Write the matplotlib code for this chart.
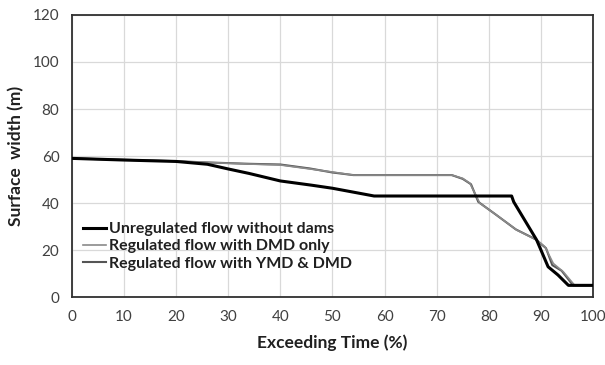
import matplotlib
matplotlib.use("Agg")
import matplotlib.pyplot as plt

plt.rcParams['font.family'] = ['Lato', 'DejaVu Sans']

# Data
x_unreg = [0, 10, 20, 26, 30, 34, 40, 46, 50, 58, 84.4, 84.8, 89.2, 91.4, 93.3, 95.3, 100]
y_unreg = [59, 58.3, 57.7, 56.5, 54.5, 52.6, 49.4, 47.6, 46.3, 43, 43, 40.5, 24.3, 12.9, 9.4, 5, 5]

x_dmd = [0, 10, 20, 25.6, 34, 40, 45.7, 50, 54, 72.9, 75, 76.4, 78.3, 81.5, 85.4, 89.2, 90.8, 92.4, 94.3, 96.5, 100]
y_dmd = [59, 58.4, 57.8, 57.3, 56.6, 56.2, 54.5, 53.2, 51.9, 51.9, 50.5, 48.4, 39.9, 34.9, 28.5, 24.3, 21.4, 14.3, 10.8, 5, 5]

x_ymd = [0, 10, 20, 25.6, 34, 40, 45.7, 50, 54, 72.9, 75, 76.6, 78.0, 81.3, 85.2, 89.0, 91.0, 92.2, 94.0, 96.2, 100]
y_ymd = [59, 58.4, 57.8, 57.3, 56.7, 56.4, 54.7, 53.0, 51.9, 51.9, 50.3, 48.0, 40.5, 35.2, 28.8, 24.6, 20.8, 13.6, 11.2, 5, 5]

labels = ["Unregulated flow without dams", "Regulated flow with DMD only", "Regulated flow with YMD & DMD"]

fig = plt.figure(figsize=(6.05, 3.65), dpi=100)
ax = fig.add_axes([0.119, 0.186, 0.861, 0.773])

ax.plot(x_ymd, y_ymd, color="#555555", lw=1.5, label=labels[2], zorder=3)
ax.plot(x_dmd, y_dmd, color="#8a8a8a", lw=1.2, label=labels[1], zorder=3)
ax.plot(x_unreg, y_unreg, color="#000000", lw=2.2, label=labels[0], zorder=4)

ax.set_xlim(0, 100)
ax.set_ylim(0, 120)
ax.set_xticks(range(0, 101, 10))
ax.set_yticks(range(0, 121, 20))
ax.grid(True, color="#d9d9d9", lw=0.9)
ax.set_axisbelow(True)
ax.tick_params(length=0, pad=9, labelsize=11, labelcolor="#404040")
for s in ax.spines.values():
    s.set_color("#303030")
    s.set_linewidth(1.3)

ax.set_xlabel("Exceeding Time (%)", fontsize=12.5, fontweight="bold", color="#202020", labelpad=8)
ax.set_ylabel("Surface  width (m)", fontsize=12.5, fontweight="bold", color="#202020", labelpad=6)

h, l = ax.get_legend_handles_labels()
order = [2, 1, 0]
leg = ax.legend([h[i] for i in order], [l[i] for i in order], loc="upper left",
                bbox_to_anchor=(0.0, 0.305), frameon=False,
                prop={"weight": "bold", "size": 11.5}, handlelength=1.4,
                handletextpad=0.2, labelspacing=0.18, borderaxespad=0.3)
for t in leg.get_texts():
    t.set_color("#202020")

fig.savefig("out.png", dpi=100)
